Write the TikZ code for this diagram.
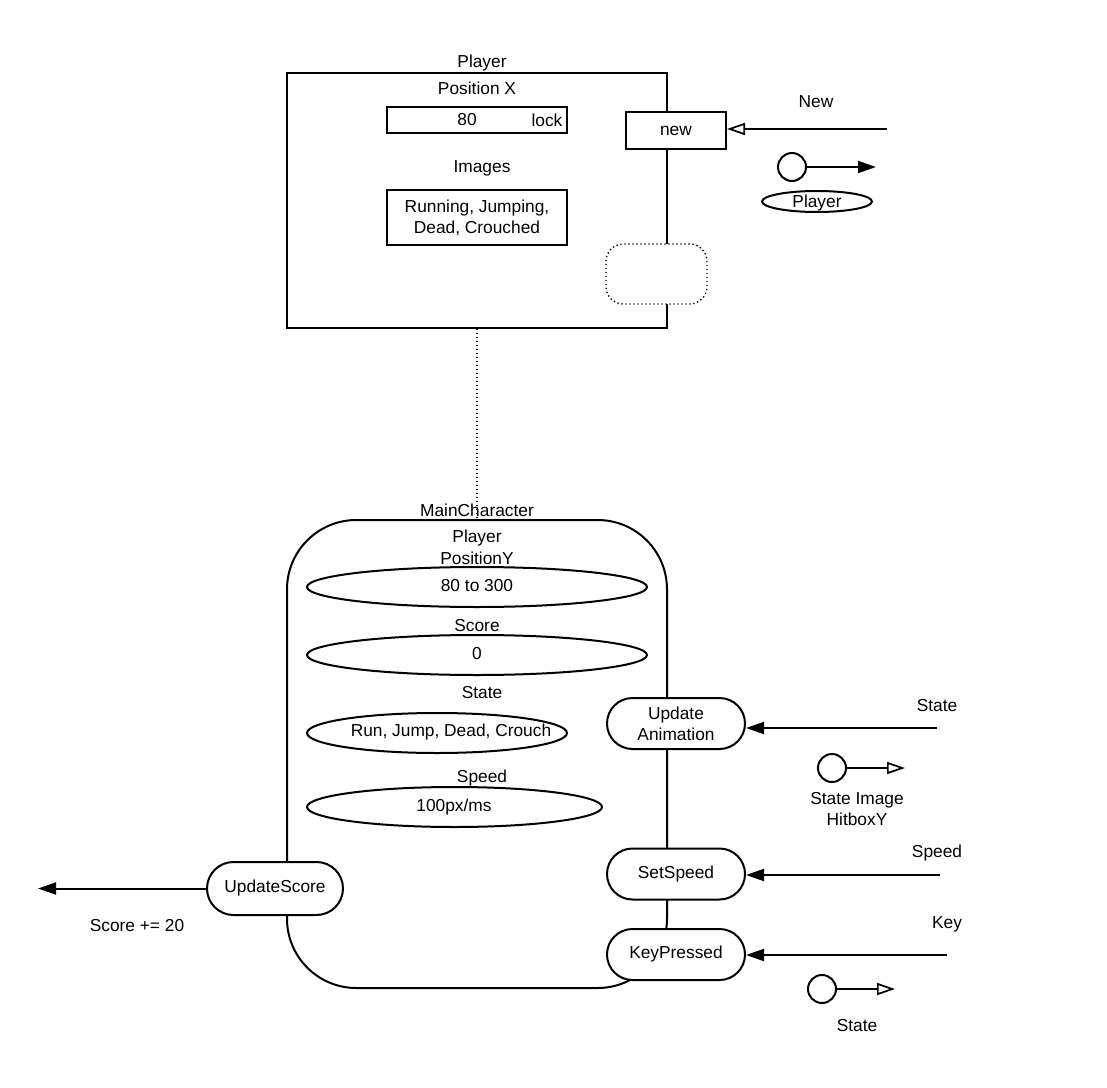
\documentclass[tikz,border=0pt]{standalone}
\usepackage{fontspec}
\setmainfont{Liberation Sans}
\usetikzlibrary{arrows.meta,shapes.geometric,shapes.misc}
\begin{document}
\begin{tikzpicture}[x=0.75pt,y=-0.75pt,
  every node/.style={font=\fontsize{13}{16}\selectfont},
  ln/.style={line width=1.5pt},
  box/.style={draw,ln,fill=white,rectangle,inner sep=0pt,align=center},
  pill/.style={draw,ln,fill=white,rounded rectangle,inner sep=0pt,align=center,minimum width=103.5pt,minimum height=38.25pt},
  field/.style={draw,ln,ellipse,inner sep=0pt,minimum height=30pt},
  port/.style={draw,ln,circle,inner sep=0pt,minimum size=21pt},
  txt/.style={inner sep=0pt,align=center},
  fillarr/.style={ln,-{Triangle[length=13.5pt,width=9pt]}},
  openarr/.style={ln,-{Triangle[open,length=13.5pt,width=9pt,line width=1.3pt]}}
]
\useasboundingbox (0,0) rectangle (1107,1088);

% Player class
\node[box,minimum width=285pt,minimum height=191.25pt] (player) at (477,200.5) {};
\node[txt] (playerlbl) at (482,63) {Player};
\node[txt] (posx) at (477,88) {Position X};
\node[box,minimum width=135pt,minimum height=19.5pt] (posxbox) at (477,120) {};
\node[txt] (v80) at (467,120) {80};
\node[txt] (lock) at (547,120) {lock};
\node[txt] (images) at (482,168) {Images};
\node[box,minimum width=135pt,minimum height=41.25pt] (imgbox) at (477,217.5) {Running, Jumping,\\Dead, Crouched};
\node[box,minimum width=75pt,minimum height=27.75pt] (new) at (676,130.5) {new};
\node[draw,dotted,line width=1pt,fill=white,rectangle,rounded corners=13pt,minimum width=75.75pt,minimum height=45pt] (hid) at (656.5,274) {};

% New input
\coordinate (newin) at (887,129);
\draw[openarr] (newin) -- (newin -| new.east);
\node[txt] (newlbl) at (816,102) {New};
\node[port] (c1) at (792,167) {};
\coordinate (c1e) at (876,167);
\draw[fillarr] (c1.east) -- (c1e);
\node[draw,ln,ellipse,inner sep=0pt,minimum width=82.5pt,minimum height=15.75pt] (pout) at (817,201.5) {};
\node[txt] (poutlbl) at (817,203) {Player};

% MainCharacter
\node[draw,ln,rectangle,rounded corners=52pt,minimum width=285pt,minimum height=351pt] (mc) at (477,754) {};
\draw[dotted,line width=1pt] (player.south) -- (mc.north);
\node[txt] (mclbl) at (477,510) {MainCharacter};
\node[txt] (mcp) at (477,538) {Player};
\node[txt] (posy) at (477,558) {PositionY};
\node[field,minimum width=255pt] (e1) at (477,587) {};
\node[txt] at (477,586) {80 to 300};
\node[txt] (score) at (477,626) {Score};
\node[field,minimum width=255pt] (e2) at (477,655) {};
\node[txt] at (477,654) {0};
\node[txt] (state) at (482,693) {State};
\node[field,minimum width=195pt] (e3) at (437,733) {};
\node[txt] at (451,732) {Run, Jump, Dead, Crouch};
\node[txt] (speed) at (482,778) {Speed};
\node[field,minimum width=221.25pt] (e4) at (454.5,807) {};
\node[txt] at (454,807) {100px/ms};

% operations
\node[pill] (ua) at (676,723.5) {Update\\Animation};
\node[pill] (ss) at (676,874) {SetSpeed};
\node[pill] (kp) at (676,954.5) {KeyPressed};
\node[pill,minimum width=102pt,minimum height=39.75pt] (us) at (275,888.5) {UpdateScore};

% State input
\coordinate (sin) at (937,728);
\draw[fillarr] (sin) -- (sin -| ua.east);
\node[txt] (slbl) at (937,706) {State};
\node[port] (c2) at (832,768) {};
\coordinate (c2e) at (905,768);
\draw[openarr] (c2.east) -- (c2e);
\node[txt] (c2lbl) at (857,809) {State Image\\HitboxY};

% Speed input
\coordinate (spin) at (940,875);
\draw[fillarr] (spin) -- (spin -| ss.east);
\node[txt] (splbl) at (937,853) {Speed};

% Key input
\coordinate (kin) at (947,955);
\draw[fillarr] (kin) -- (kin -| kp.east);
\node[txt] (klbl) at (947,924) {Key};
\node[port] (c3) at (822,989) {};
\coordinate (c3e) at (895,989);
\draw[openarr] (c3.east) -- (c3e);
\node[txt] (c3lbl) at (857,1026) {State};

% Score output
\coordinate (sout) at (38,888.5);
\draw[fillarr] (us.west) -- (sout);
\node[txt] (scorelbl) at (137,926) {Score += 20};
\end{tikzpicture}
\end{document}
